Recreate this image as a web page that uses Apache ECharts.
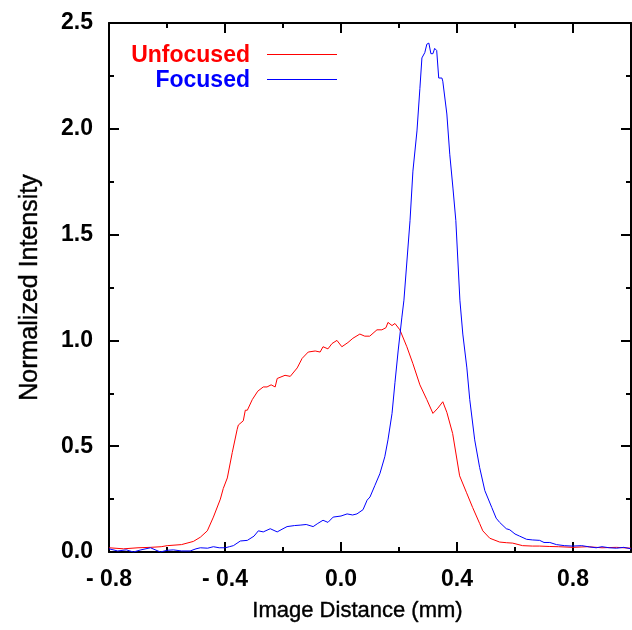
<!DOCTYPE html>
<html>
<head>
<meta charset="utf-8">
<script src="https://cdn.jsdelivr.net/npm/echarts@6/dist/echarts.min.js"></script>
<style>
html,body{margin:0;padding:0;background:#fff;}
#chart{width:632px;height:630px;}
</style>
</head>
<body>
<div id="chart"></div>
<script>
// Unfocused (red) profile: [image distance (mm), normalized intensity]
var unfocusedX = [-0.80,-0.75,-0.70,-0.657,-0.62,-0.599,-0.55,-0.509,-0.485,-0.461,-0.44,-0.416,-0.406,-0.392,-0.375,-0.358,-0.354,-0.337,-0.330,-0.323,-0.306,-0.287,-0.268,-0.255,-0.241,-0.227,-0.220,-0.193,-0.175,-0.151,-0.134,-0.113,-0.089,-0.072,-0.062,-0.045,-0.031,-0.014,0.003,0.024,0.041,0.065,0.082,0.099,0.124,0.141,0.155,0.162,0.176,0.186,0.203,0.227,0.248,0.272,0.296,0.317,0.334,0.351,0.365,0.385,0.409,0.433,0.454,0.478,0.489,0.513,0.547,0.57,0.592,0.626,0.66,0.685,0.72,0.75,0.80,0.85,0.90,0.95,1.00];
var unfocusedY = [0.020,0.015,0.020,0.022,0.025,0.030,0.035,0.050,0.070,0.100,0.165,0.250,0.300,0.350,0.470,0.580,0.600,0.620,0.670,0.670,0.720,0.760,0.780,0.780,0.790,0.780,0.820,0.835,0.830,0.870,0.915,0.945,0.950,0.945,0.970,0.960,0.985,1.000,0.970,0.990,1.010,1.030,1.020,1.020,1.050,1.050,1.060,1.085,1.070,1.080,1.050,0.970,0.890,0.790,0.720,0.655,0.680,0.710,0.660,0.560,0.360,0.280,0.210,0.135,0.100,0.065,0.047,0.044,0.042,0.030,0.028,0.028,0.026,0.025,0.022,0.025,0.020,0.022,0.018];

// Focused (blue) profile
var focusedX = [-0.80,-0.77,-0.74,-0.716,-0.69,-0.657,-0.623,-0.60,-0.578,-0.55,-0.52,-0.50,-0.485,-0.46,-0.44,-0.42,-0.399,-0.385,-0.371,-0.347,-0.323,-0.30,-0.285,-0.268,-0.244,-0.22,-0.20,-0.186,-0.16,-0.141,-0.12,-0.096,-0.08,-0.062,-0.045,-0.027,0.0,0.021,0.04,0.055,0.076,0.090,0.100,0.117,0.134,0.151,0.162,0.176,0.186,0.197,0.210,0.217,0.238,0.248,0.262,0.272,0.279,0.289,0.296,0.303,0.310,0.317,0.323,0.330,0.337,0.348,0.351,0.365,0.375,0.386,0.396,0.410,0.420,0.434,0.444,0.461,0.478,0.496,0.520,0.535,0.547,0.57,0.582,0.60,0.616,0.64,0.661,0.685,0.70,0.72,0.743,0.77,0.798,0.83,0.857,0.88,0.90,0.925,0.95,0.975,1.00];
var focusedY = [0.015,0.005,0.010,0.000,0.010,0.020,0.000,0.008,0.010,0.005,0.005,0.015,0.020,0.018,0.025,0.020,0.020,0.025,0.030,0.052,0.055,0.075,0.100,0.095,0.110,0.095,0.110,0.120,0.125,0.127,0.130,0.120,0.135,0.150,0.140,0.165,0.170,0.180,0.175,0.180,0.200,0.245,0.260,0.315,0.370,0.450,0.530,0.655,0.800,0.950,1.110,1.190,1.566,1.800,1.990,2.190,2.335,2.360,2.400,2.405,2.355,2.355,2.380,2.370,2.240,2.240,2.225,2.070,1.880,1.720,1.566,1.190,1.030,0.870,0.720,0.530,0.400,0.290,0.210,0.160,0.140,0.110,0.105,0.085,0.075,0.060,0.057,0.055,0.045,0.045,0.035,0.030,0.028,0.030,0.024,0.020,0.025,0.020,0.018,0.022,0.015];

var xTickValues = [-0.8,-0.4,0.0,0.4,0.8];
var yTickValues = [0.0,0.5,1.0,1.5,2.0,2.5];
var legendLabels = ['Unfocused','Focused'];
var seriesColors = ['#ff0000','#0000ff'];

function pairs(xs, ys){ return xs.map(function(x,i){ return [x, ys[i]]; }); }
function fmtX(v){
  var hit = xTickValues.some(function(t){ return Math.abs(t - v) < 1e-6; });
  if (!hit) return '';
  if (v < -1e-9) return '- ' + Math.abs(v).toFixed(1);
  return Math.abs(v).toFixed(1);
}

var FONT = 'Liberation Sans';
var axisLineStyle = {color:'#000', width:2};

var chart = echarts.init(document.getElementById('chart'), null, {renderer:'canvas'});
chart.setOption({
  animation:false,
  backgroundColor:'#fff',
  grid:{left:109, right:1, top:23, bottom:78, containLabel:false},
  xAxis:[{
    type:'value', min:-0.8, max:1.0, interval:0.4, position:'bottom',
    axisLine:{show:true, onZero:false, lineStyle:axisLineStyle},
    axisTick:{show:true, inside:true, length:10, lineStyle:{color:'#000', width:2}},
    minorTick:{show:true, splitNumber:2, length:5, lineStyle:{color:'#000', width:2}},
    splitLine:{show:false}, minorSplitLine:{show:false},
    axisLabel:{formatter:fmtX, margin:16, color:'#000', fontFamily:FONT, fontWeight:'bold', fontSize:23, showMaxLabel:false},
    name:'Image Distance (mm)', nameLocation:'middle', nameGap:48,
    nameTextStyle:{color:'#000', fontFamily:FONT, fontSize:22, padding:[0,25,0,0], textBorderColor:'#000', textBorderWidth:0.4}
  },{
    type:'value', min:-0.8, max:1.0, interval:0.4, position:'top',
    axisLine:{show:true, onZero:false, lineStyle:axisLineStyle},
    axisTick:{show:true, inside:true, length:10, lineStyle:{color:'#000', width:2}},
    minorTick:{show:true, splitNumber:2, length:5, lineStyle:{color:'#000', width:2}},
    splitLine:{show:false}, axisLabel:{show:false}
  }],
  yAxis:[{
    type:'value', min:0, max:2.5, interval:0.5, position:'left',
    axisLine:{show:true, onZero:false, lineStyle:axisLineStyle},
    axisTick:{show:true, inside:true, length:10, lineStyle:{color:'#000', width:2}},
    minorTick:{show:true, splitNumber:2, length:5, lineStyle:{color:'#000', width:2}},
    splitLine:{show:false}, minorSplitLine:{show:false},
    axisLabel:{formatter:function(v){ return v.toFixed(1); }, margin:16, color:'#000', fontFamily:FONT, fontWeight:'bold', fontSize:23},
    name:'Normalized Intensity', nameLocation:'middle', nameGap:66, nameRotate:90,
    nameTextStyle:{color:'#000', fontFamily:FONT, fontSize:25, textBorderColor:'#000', textBorderWidth:0.4}
  },{
    type:'value', min:0, max:2.5, interval:0.5, position:'right',
    axisLine:{show:true, onZero:false, lineStyle:axisLineStyle},
    axisTick:{show:true, inside:true, length:10, lineStyle:{color:'#000', width:2}},
    minorTick:{show:true, splitNumber:2, length:5, lineStyle:{color:'#000', width:2}},
    splitLine:{show:false}, axisLabel:{show:false}
  }],
  series:[{
    name:legendLabels[0], type:'line', xAxisIndex:0, yAxisIndex:0,
    data:pairs(unfocusedX, unfocusedY), showSymbol:false, symbol:'none',
    lineStyle:{color:seriesColors[0], width:1}, itemStyle:{color:seriesColors[0]}, z:2
  },{
    name:legendLabels[1], type:'line', xAxisIndex:0, yAxisIndex:0,
    data:pairs(focusedX, focusedY), showSymbol:false, symbol:'none',
    lineStyle:{color:seriesColors[1], width:1}, itemStyle:{color:seriesColors[1]}, z:3
  }],
  graphic:[
    {type:'text', x:250, y:56, style:{text:legendLabels[0], fill:seriesColors[0], font:'bold 23px "Liberation Sans"', textAlign:'right', textVerticalAlign:'middle'}},
    {type:'line', shape:{x1:267, y1:54.5, x2:337, y2:54.5}, style:{stroke:seriesColors[0], lineWidth:1}},
    {type:'text', x:250, y:81, style:{text:legendLabels[1], fill:seriesColors[1], font:'bold 23px "Liberation Sans"', textAlign:'right', textVerticalAlign:'middle'}},
    {type:'line', shape:{x1:267, y1:79.5, x2:337, y2:79.5}, style:{stroke:seriesColors[1], lineWidth:1}}
  ]
});
</script>
</body>
</html>
